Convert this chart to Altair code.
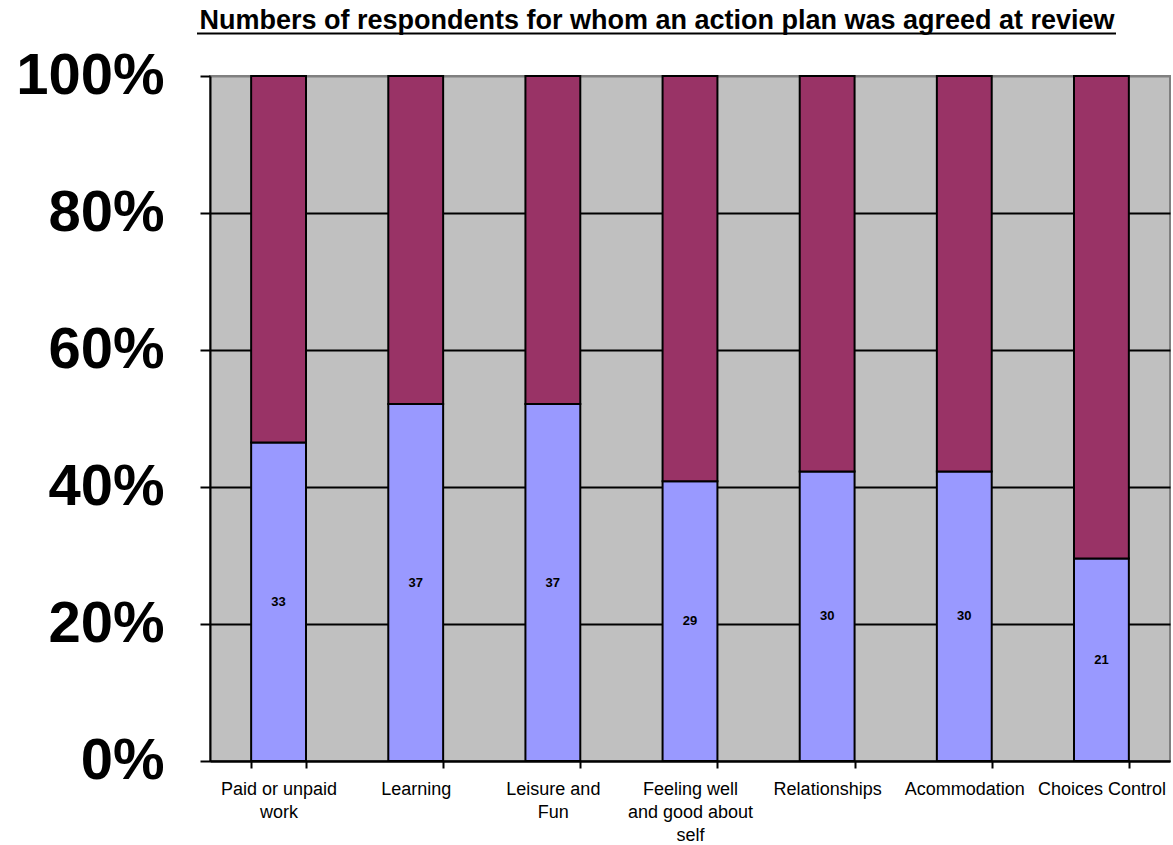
import altair as alt
import pandas as pd

title_text = "Numbers of respondents for whom an action plan was agreed at review"
categories = ["Paid or unpaid work", "Learning", "Leisure and Fun",
              "Feeling well and good about self", "Relationships",
              "Acommodation", "Choices Control"]
tick_lines = [["Paid or unpaid", "work"], ["Learning"], ["Leisure and", "Fun"],
              ["Feeling well", "and good about", "self"], ["Relationships"],
              ["Acommodation"], ["Choices Control"]]
series = ["Action plan agreed", "No action plan agreed"]
agreed = [33, 37, 37, 29, 30, 30, 21]
not_agreed = [38, 34, 34, 42, 41, 41, 50]
colors = ["#9999FF", "#993366"]
y_ticks = [0, 0.2, 0.4, 0.6, 0.8, 1.0]

rows = []
for c, a, n in zip(categories, agreed, not_agreed):
    rows.append({"category": c, "series": series[0], "count": a, "ord": 0})
    rows.append({"category": c, "series": series[1], "count": n, "ord": 1})
df = pd.DataFrame(rows)

# multi-line tick label expression
expr = "datum.label"
for c, lines in reversed(list(zip(categories, tick_lines))):
    arr = "[" + ",".join("'" + l + "'" for l in lines) + "]"
    expr = f"datum.label == '{c}' ? {arr} : ({expr})"

FONT = "Arial, Liberation Sans, sans-serif"

x_enc = alt.X("category:N", sort=categories, title=None,
              scale=alt.Scale(paddingInner=0.6, paddingOuter=0.3),
              axis=alt.Axis(labelExpr=expr, labelAngle=0, labelFontSize=18,
                            labelFont=FONT, labelColor="black",
                            labelLineHeight=23, labelPadding=12,
                            tickBand="extent", tickSize=7, tickWidth=2,
                            tickColor="black", domainColor="black",
                            domainWidth=2, labelLimit=300, grid=False))

y_scale = alt.Scale(domain=[0, 1], nice=False)

bars = alt.Chart(df).mark_bar(stroke="black", strokeWidth=2).encode(
    x=x_enc,
    y=alt.Y("sum(count):Q", stack="normalize", title=None, scale=y_scale,
            axis=alt.Axis(values=y_ticks, format=".0%", labelFontSize=58,
                          labelFont=FONT, labelFontWeight="bold",
                          labelColor="black", labelPadding=36,
                          tickSize=10, tickWidth=2, tickColor="black",
                          domainColor="black", domainWidth=2,
                          grid=True,
                          gridColor=alt.condition("datum.value >= 1",
                                                  alt.value("#808080"),
                                                  alt.value("black")),
                          gridWidth=2)),
    color=alt.Color("series:N", scale=alt.Scale(domain=series, range=colors),
                    legend=None),
    order=alt.Order("ord:Q", sort="ascending"),
)

labels = alt.Chart(df).transform_joinaggregate(
    total="sum(count)", groupby=["category"]
).transform_filter(
    alt.datum.series == series[0]
).transform_calculate(
    mid="datum.count / datum.total / 2"
).mark_text(font=FONT, fontSize=13, fontWeight="bold", color="black").encode(
    x=alt.X("category:N", sort=categories),
    y=alt.Y("mid:Q", scale=y_scale),
    text="count:Q",
)

title_df = pd.DataFrame({"t": [title_text]})
title = alt.Chart(title_df).mark_text(
    font=FONT, fontSize=27, fontWeight="bold", color="black",
    align="center", baseline="alphabetic"
).encode(text="t:N", x=alt.value(447), y=alt.value(-47))

underline = alt.Chart(title_df).mark_rule(color="black", strokeWidth=2).encode(
    x=alt.value(-13), x2=alt.value(906), y=alt.value(-42.5)
)

chart = alt.layer(bars, labels, title, underline).properties(
    width=960, height=685,
    autosize=alt.AutoSizeParams(type="none"),
    padding={"left": 210, "top": 76, "right": 3, "bottom": 84},
).configure_view(fill="#C0C0C0", stroke="#808080", strokeWidth=2)

chart.save("out.html", embed_options={"renderer": "svg", "actions": False})
